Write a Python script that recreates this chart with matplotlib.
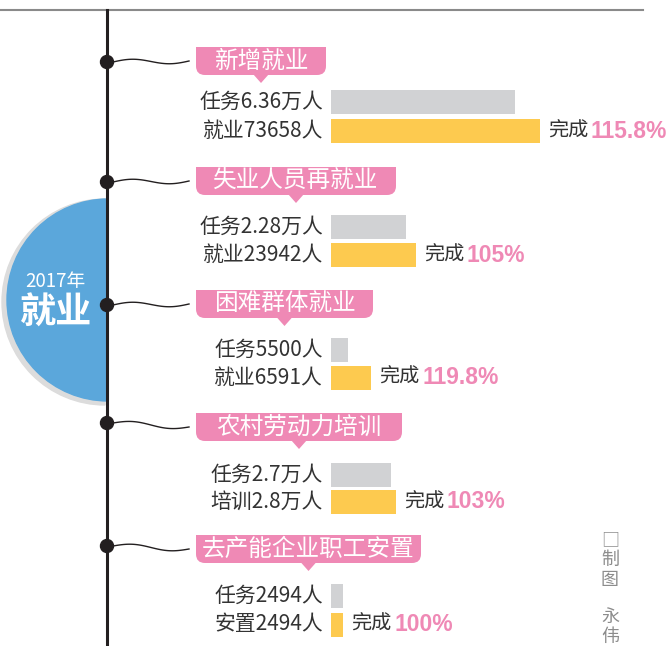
import numpy as np
import matplotlib
matplotlib.use("Agg")
import matplotlib.pyplot as plt
from matplotlib.patches import Wedge, Circle, FancyBboxPatch, Rectangle, Polygon

plt.rcParams['font.family'] = ['Noto Sans CJK SC', 'DejaVu Sans']

# data
categories = ["新增就业", "失业人员再就业", "困难群体就业", "农村劳动力培训", "去产能企业职工安置"]
task_labels = ["任务6.36万人", "任务2.28万人", "任务5500人", "任务2.7万人", "任务2494人"]
done_labels = ["就业73658人", "就业23942人", "就业6591人", "培训2.8万人", "安置2494人"]
done_rates = ["115.8%", "105%", "119.8%", "103%", "100%"]
# bar lengths as drawn in the graphic (each group has its own scale)
task_bars = [184, 75, 17, 60, 12]
done_bars = [209, 85, 40, 65, 12]

# layout (pixel units)
dot_y = [62, 182, 305, 423, 546]
box_cy = [61, 181, 304, 427, 549]
box_w = [130, 200, 177, 206, 225]
task_y = [101.5, 227, 349.5, 474.5, 596]
done_y = [131, 255, 377.5, 502, 624.5]

pink = '#ef89b5'
dark = '#231f20'
txt = '#333333'

fig = plt.figure(figsize=(6.68, 6.46), dpi=100)
ax = fig.add_axes([0, 0, 1, 1])
ax.set_xlim(0, 668)
ax.set_ylim(646, 0)
ax.axis('off')

# top rule and timeline
ax.plot([0, 643], [10, 10], color='#8a8a8a', lw=1.5)
ax.plot([107, 107], [10, 646], color=dark, lw=2.2, zorder=5)

# half circle title
ax.add_patch(Wedge((105, 302), 103, 90, 270, color='#dcdcdc', zorder=1))
ax.add_patch(Wedge((108, 300), 101, 90, 270, color='#5ba7db', zorder=2))
ax.text(55, 281, "2017年", color='white', fontsize=13.5, ha='center', va='center', zorder=3)
ax.text(56, 313, "就业", color='white', fontsize=26, fontweight='bold',
        ha='center', va='center', zorder=3)

# dots, waves and category tags
t = np.linspace(0, 1, 60)
for i, cat in enumerate(categories):
    y0 = dot_y[i]
    ax.add_patch(Circle((107, y0), 6.5, color=dark, zorder=6))
    ax.plot(113 + t * 76, y0 + (box_cy[i] - y0) * t - 2.5 * np.sin(2 * np.pi * t),
            color=dark, lw=1, zorder=4)

    x0, w, cy = 196, box_w[i], box_cy[i]
    ax.add_patch(FancyBboxPatch((x0, cy - 14), w, 28,
                                boxstyle="round,pad=0,rounding_size=9",
                                color=pink, lw=0))
    ax.add_patch(Rectangle((x0, cy - 14), w, 14, color=pink, lw=0))
    cx = x0 + w / 2
    ax.add_patch(Polygon([(cx - 8, cy + 13), (cx + 8, cy + 13), (cx, cy + 22)],
                         color=pink, lw=0))
    ax.text(cx, cy, cat, color='white', fontsize=17, ha='center', va='center')

# bars
ax.barh(task_y, task_bars, left=331, height=24, color='#d1d2d4')
ax.barh(done_y, done_bars, left=331, height=24, color='#fdca4f')

for i in range(len(categories)):
    ax.text(323, task_y[i], task_labels[i], ha='right', va='center', fontsize=15, color=txt)
    ax.text(323, done_y[i], done_labels[i], ha='right', va='center', fontsize=15, color=txt)
    xe = 331 + done_bars[i]
    ax.text(xe + 8, done_y[i], "完成", ha='left', va='center', fontsize=14.5, color=txt)
    ax.text(xe + 51, done_y[i], done_rates[i], ha='left', va='center',
            family=['Liberation Sans'], fontweight='bold', fontsize=16.5, color=pink)

# credit
credit_chars = ["□", "制", "图", "永", "伟"]
credit_y = [540, 560, 580, 617, 637]
for ch, yy in zip(credit_chars, credit_y):
    ax.text(610, yy, ch, ha='center', va='center', fontsize=13, color='#8c8c8c')

fig.savefig("out.png", dpi=100)
